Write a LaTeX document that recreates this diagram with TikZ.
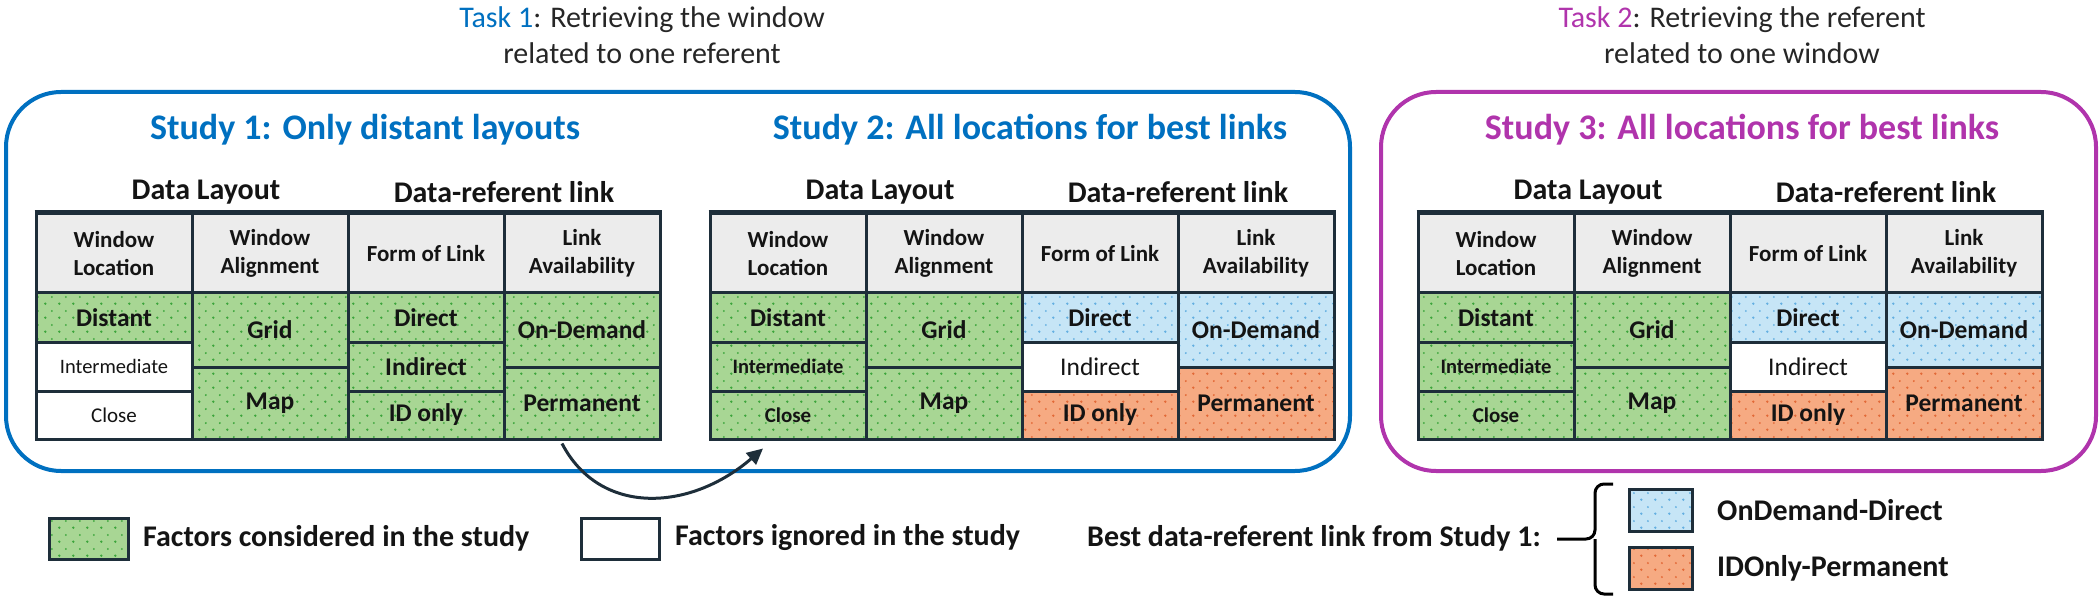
\documentclass[tikz,border=0pt]{standalone}
\usepackage{fontspec}
\setmainfont{Carlito}
\usetikzlibrary{patterns.meta,arrows.meta,calc}

\definecolor{cblue}{RGB}{0,112,192}
\definecolor{cpurp}{RGB}{176,52,172}
\definecolor{bord}{RGB}{30,46,58}
\definecolor{hdr}{RGB}{236,236,236}
\definecolor{gfill}{RGB}{168,214,148}
\definecolor{gdot}{RGB}{60,165,60}
\definecolor{bfill}{RGB}{198,229,246}
\definecolor{bdot}{RGB}{100,175,225}
\definecolor{ofill}{RGB}{246,170,130}
\definecolor{odot}{RGB}{226,105,55}
\definecolor{txt}{RGB}{20,20,20}
\definecolor{tasktxt}{RGB}{38,38,38}

\tikzdeclarepattern{
  name=cdots,
  type=uncolored,
  bounding box={(0pt,0pt) and (14pt,14pt)},
  tile size={(14pt,14pt)},
  code={
    \fill (3.5pt,3.5pt) circle (1.4pt);
    \fill (10.5pt,10.5pt) circle (1.1pt);
  }
}

\tikzset{
  cellbase/.style={draw=bord, line width=3pt, minimum width=156pt, inner sep=0pt, text=txt, align=center},
  hd/.style={cellbase, fill=hdr, minimum height=79pt, font=\bfseries\fontsize{23}{28}\selectfont},
  con/.style={cellbase, preaction={fill=gfill}, pattern=cdots, pattern color=gdot, font=\bfseries\fontsize{25.5}{30}\selectfont},
  ign/.style={cellbase, fill=white, font=\fontsize{25.5}{30}\selectfont},
  blu/.style={cellbase, preaction={fill=bfill}, pattern=cdots, pattern color=bdot, font=\bfseries\fontsize{25.5}{30}\selectfont},
  org/.style={cellbase, preaction={fill=ofill}, pattern=cdots, pattern color=odot, font=\bfseries\fontsize{25.5}{30}\selectfont},
  grouplbl/.style={font=\bfseries\fontsize{30}{34}\selectfont, text=txt},
  studytitle/.style={font=\bfseries\fontsize{36}{40}\selectfont},
  tasklbl/.style={font=\fontsize{30}{36}\selectfont, align=center, text=tasktxt},
  legtxt/.style={anchor=west, inner sep=0pt, font=\bfseries\fontsize{30}{34}\selectfont, text=txt},
  legbox/.style={draw=bord, line width=3pt, inner sep=0pt},
  frame/.style={line width=4pt, rounded corners=55pt},
}

\newcommand\studytab[8]{%
\begin{scope}[xshift=#2pt, name prefix=#1]
 \node[hd] (h1) at (78,253.5) {Window\\Location};
 \node[hd] (h2) at (234,253.5) {Window\\Alignment};
 \node[hd] (h3) at (390,253.5) {Form of Link};
 \node[hd] (h4) at (546,253.5) {Link\\Availability};
 \draw[bord, line width=5pt] (h1.north west) -- (h4.north east);
 \node[con, minimum height=49pt] (dist) at (78,317.5) {Distant};
 \node[#3, minimum height=49pt] (inter) at (78,366.5) {\fontsize{20.5}{24}\selectfont Intermediate};
 \node[#3, minimum height=48pt] (close) at (78,415) {\fontsize{21}{24}\selectfont Close};
 \node[con, minimum height=74pt] (grid) at (234,330) {Grid};
 \node[con, minimum height=72pt] (map) at (234,403) {Map};
 \node[#4, minimum height=49pt] (direct) at (390,317.5) {Direct};
 \node[#5, minimum height=49pt] (indirect) at (390,366.5) {Indirect};
 \node[#6, minimum height=48pt] (idonly) at (390,415) {ID only};
 \node[#7, minimum height=74pt] (ondem) at (546,330) {On-Demand};
 \node[#8, minimum height=72pt] (perm) at (546,403) {Permanent};
 \node[grouplbl] (dl) at (170,192) {Data Layout};
 \node[grouplbl] (dr) at (468,192) {Data-referent link};
\end{scope}}

\begin{document}
\begin{tikzpicture}[x=1pt,y=-1pt]
\useasboundingbox (0,0) rectangle (2100,601);

% task labels
\node[tasklbl] (task1) at (642,35) {\textcolor{cblue}{Task 1}: Retrieving the window\\related to one referent};
\node[tasklbl] (task2) at (1742,35) {\textcolor{cpurp}{Task 2}: Retrieving the referent\\related to one window};

% frames
\draw[frame, cblue] (6,92) rectangle (1350,471);
\draw[frame, cpurp] (1381,92) rectangle (2096,471);

% titles
\node[studytitle, text=cblue] (t1) at (365,130) {Study 1: Only distant layouts};
\node[studytitle, text=cblue] (t2) at (1030,130) {Study 2: All locations for best links};
\node[studytitle, text=cpurp] (t3) at (1742,130) {Study 3: All locations for best links};

% tables
\studytab{s1-}{36}{ign}{con}{con}{con}{con}{con}
\studytab{s2-}{710}{con}{blu}{ign}{org}{blu}{org}
\studytab{s3-}{1418}{con}{blu}{ign}{org}{blu}{org}

% arrow from study 1 to study 2
\draw[bord, line width=3pt, -{Triangle[length=16pt,width=15pt]}]
  ([xshift=-20pt,yshift=-3pt]s1-perm.south) .. controls +(38,73) and +(-73,63) .. ([xshift=-25pt,yshift=-8pt]s2-close.south);

% legend
\node[legbox, minimum width=79pt, minimum height=41pt, preaction={fill=gfill}, pattern=cdots, pattern color=gdot] (lgG) at (88.5,538.5) {};
\node[legtxt] (lgGt) at (143,538) {Factors considered in the study};
\node[legbox, minimum width=78pt, minimum height=41pt, fill=white] (lgW) at (620,538.5) {};
\node[legtxt] (lgWt) at (675,538) {Factors ignored in the study};
\node[legtxt] (lgB) at (1087,538) {Best data-referent link from Study 1:};

% brace
\coordinate (brtip) at (1557,539);
\draw[line width=3pt, rounded corners=9pt] (1613,484) -- (1595,484) -- (1595,539) -- (brtip);
\draw[line width=3pt, rounded corners=9pt] (1613,594) -- (1595,594) -- (1595,539);

\node[legbox, minimum width=63pt, minimum height=42pt, preaction={fill=bfill}, pattern=cdots, pattern color=bdot] (lgBl) at (1660.5,510) {};
\node[legtxt] (lgBlt) at (1717,510) {OnDemand-Direct};
\node[legbox, minimum width=63pt, minimum height=42pt, preaction={fill=ofill}, pattern=cdots, pattern color=odot] (lgOr) at (1660.5,568) {};
\node[legtxt] (lgOrt) at (1717,568) {IDOnly-Permanent};

\end{tikzpicture}
\end{document}
